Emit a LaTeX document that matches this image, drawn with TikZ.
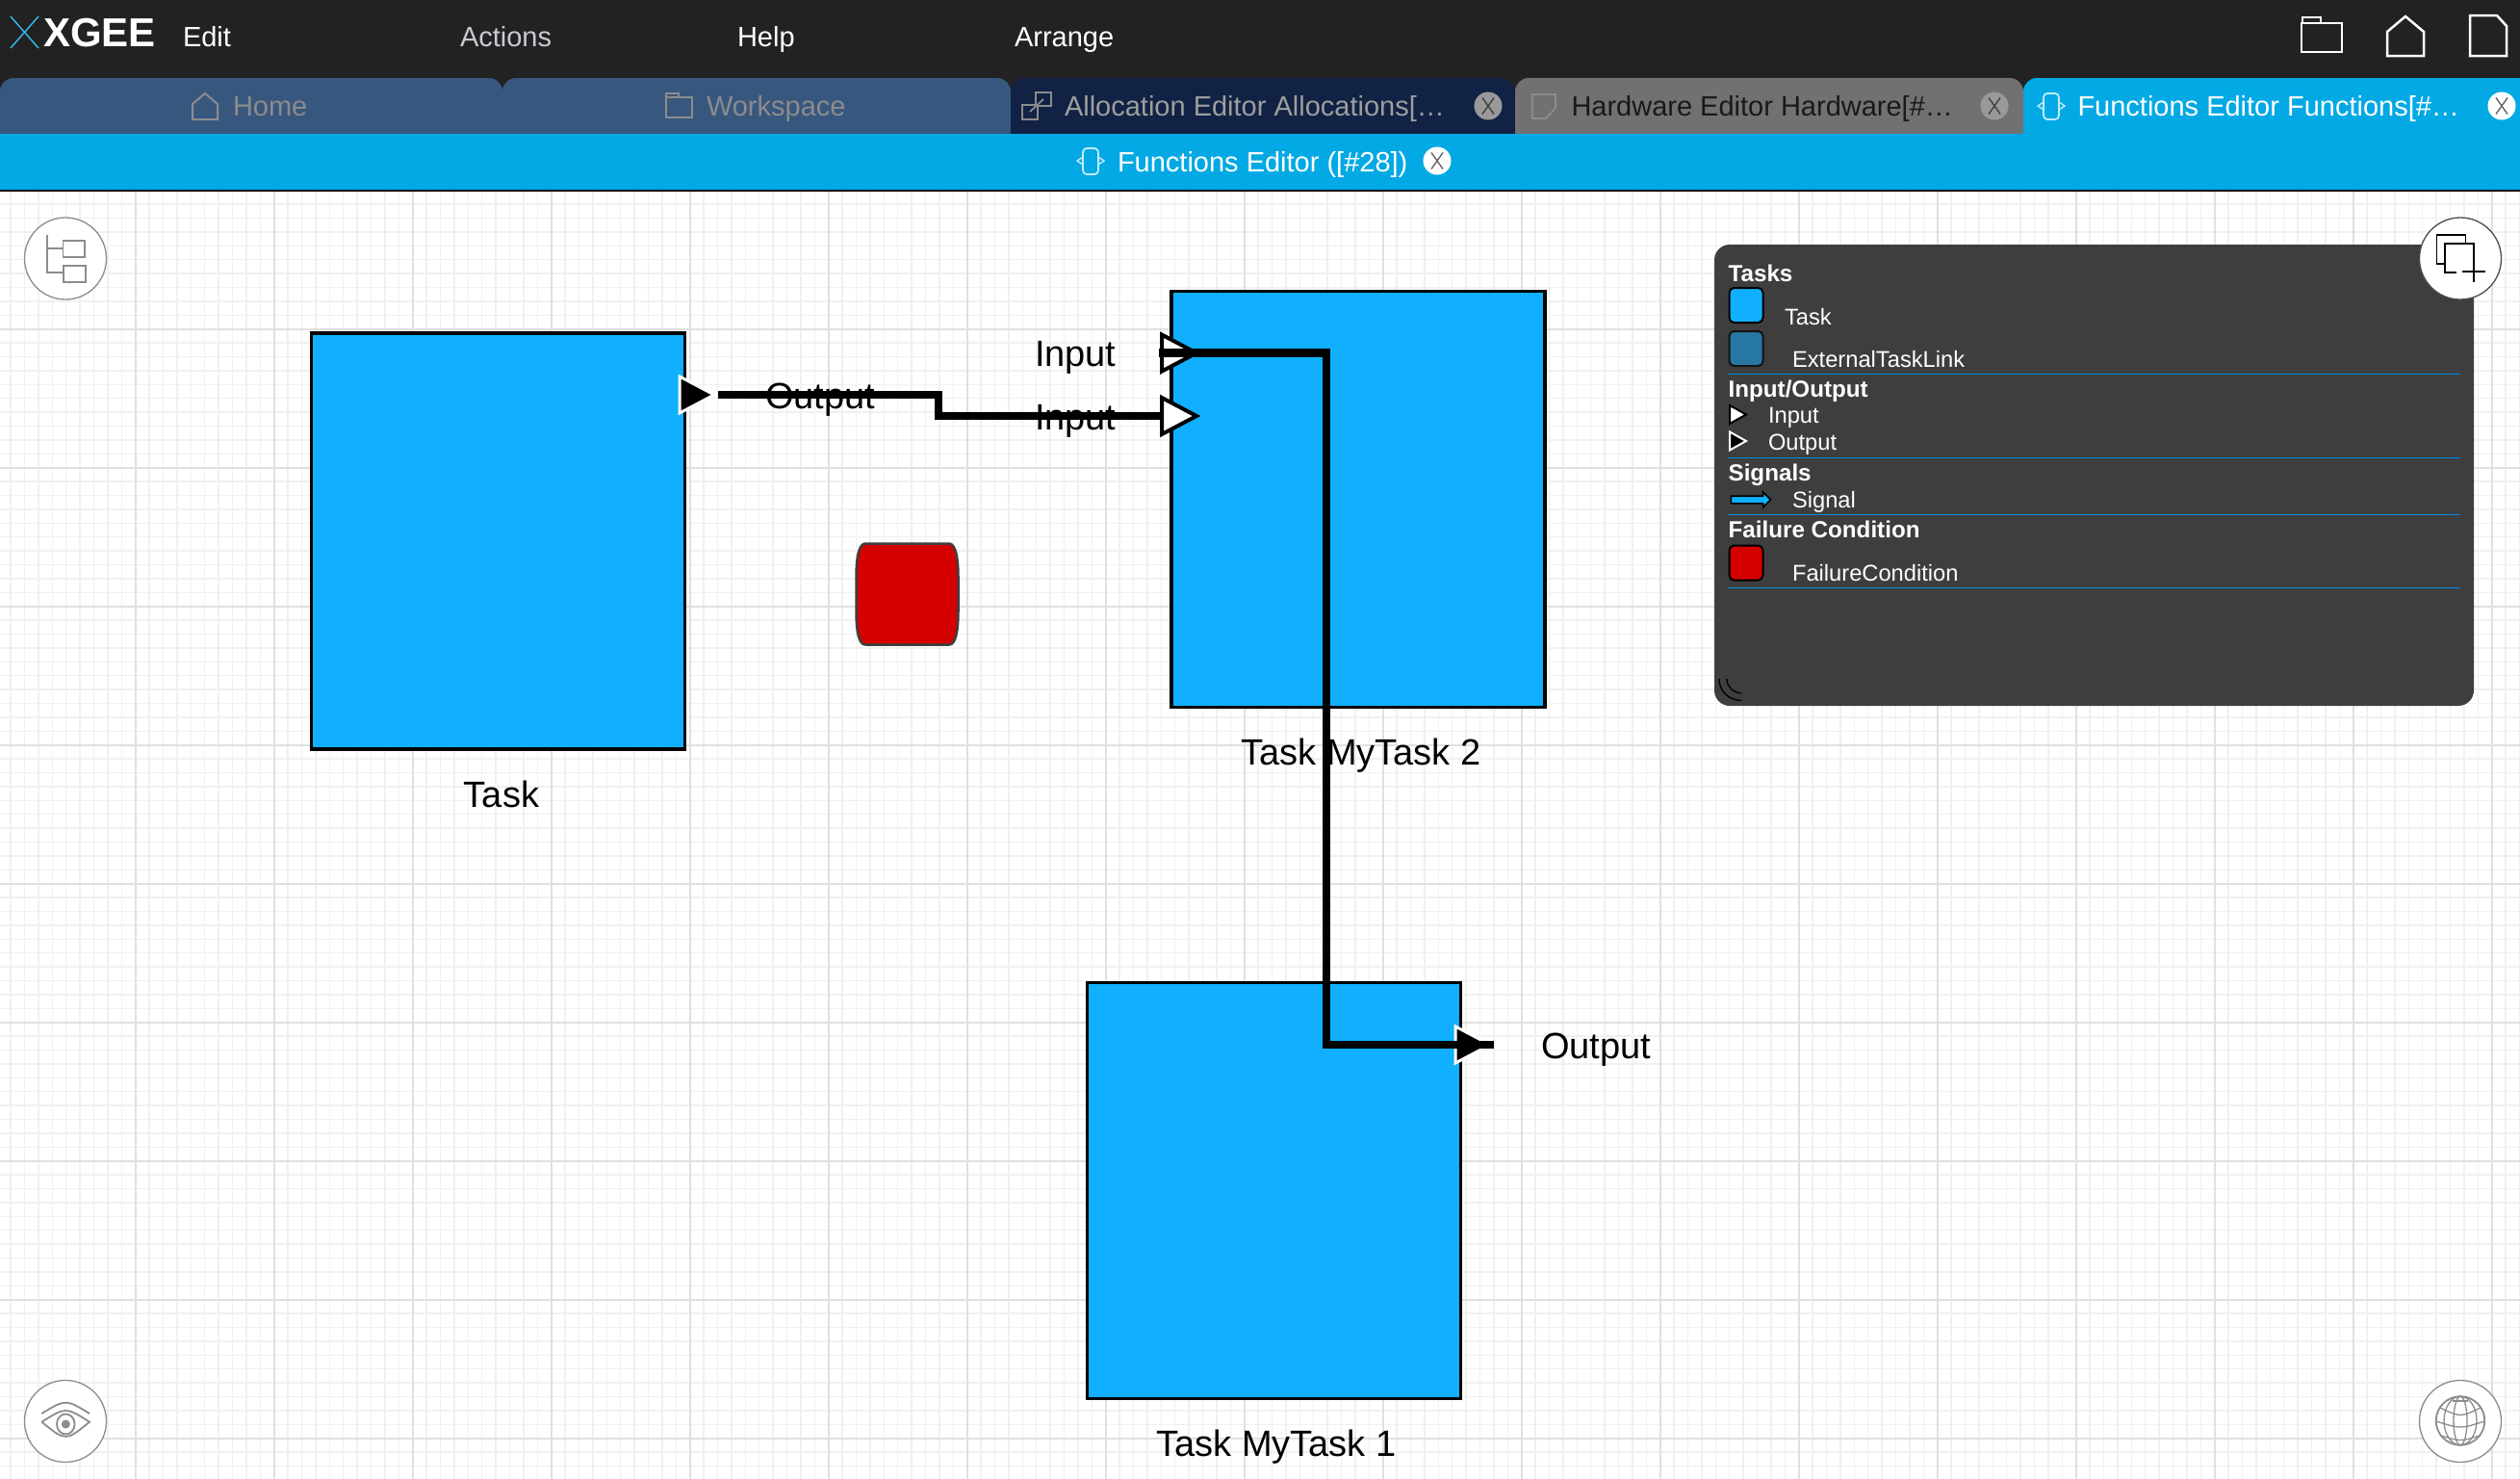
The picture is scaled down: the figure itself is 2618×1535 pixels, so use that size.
\documentclass[tikz,border=0pt]{standalone}
\usepackage{fontspec}
\setmainfont{Liberation Sans}
\usetikzlibrary{shapes,shapes.misc}

\definecolor{barDark}{HTML}{222222}
\definecolor{tabBlue}{HTML}{37577F}
\definecolor{tabNavy}{HTML}{112244}
\definecolor{tabGrey}{HTML}{717171}
\definecolor{barCyan}{HTML}{03A9E4}
\definecolor{taskBlue}{HTML}{10B0FF}
\definecolor{linkBlue}{HTML}{2777A5}
\definecolor{failRed}{HTML}{D40000}
\definecolor{panelGrey}{HTML}{3E3E3E}
\definecolor{ruleBlue}{HTML}{0088DD}
\definecolor{iconGrey}{HTML}{8C8C8C}
\definecolor{gridMinor}{HTML}{F0F0F0}
\definecolor{gridMajor}{HTML}{E0E0E0}
\definecolor{menuDim}{HTML}{C9C9D6}

\begin{document}
\begin{tikzpicture}[x=1pt, y=-1pt, line join=miter,
      every node/.append style={inner sep=0pt,outer sep=0pt}]
    \tikzstyle{menu} = [anchor=base west,font=\fontsize{29}{34}\selectfont,text=white]
    \tikzstyle{caption} = [anchor=base,font=\fontsize{38}{45}\selectfont,text=black]
    \tikzstyle{portname} = [anchor=base west,font=\fontsize{38}{45}\selectfont,text=black]
    \tikzstyle{legendhead} = [anchor=base west,font=\fontsize{24.2}{29}\selectfont\bfseries,text=white]
    \tikzstyle{legendtext} = [anchor=base west,font=\fontsize{23.7}{28}\selectfont,text=white]
    \tikzstyle{task} = [draw=black,fill=taskBlue,line width=3.5pt,minimum width=388pt,minimum height=432pt]
    \tikzstyle{swatch} = [draw=black,line width=2pt,rounded corners=5pt,minimum width=35pt,minimum height=36pt]
    \tikzstyle{port} = [isosceles triangle,isosceles triangle stretches,shape border rotate=0,anchor=lower side,
      minimum width=38pt,minimum height=36pt,line width=4pt]
    \tikzstyle{inport} = [port,draw=black,fill=white]
    \tikzstyle{outport} = [port,draw=white,fill=black,line width=3pt]
    \tikzstyle{smallport} = [isosceles triangle,isosceles triangle stretches,shape border rotate=0,anchor=lower side,
      minimum width=19pt,minimum height=17pt,line width=2pt]
    \tikzstyle{wire} = [draw=black,line width=8.5pt]
    \tikzstyle{rulerline} = [draw=ruleBlue,line width=1.6pt]
    \tikzstyle{roundbutton} = [circle,draw=iconGrey,fill=white,line width=1.3pt,minimum size=85pt]
    \tikzstyle{closebadge} = [circle,minimum size=29pt]
    \tikzstyle{closecross} = [cross out,draw=#1,line width=1.4pt,minimum width=12pt,minimum height=17pt]
    \tikzstyle{iconline} = [draw=iconGrey,line width=1.8pt]

    \useasboundingbox (0,0) rectangle (2618,1535);
    \fill [white] (0,0) rectangle (2618,1535);
    \begin{scope}[shift={(140.6,341.7)}]
      \draw [gridMinor,line width=1.4pt,step=14.4pt] (-144,1296) grid (2592,-144);
      \draw [gridMajor,line width=2.2pt,step=144pt] (-144,1296) grid (2592,-144);
    \end{scope}

    \fill [barDark] (0,0) rectangle (2618,96);
    \fill [tabBlue,rounded corners=14pt] (0,81) rectangle (522,160);
    \fill [tabBlue,rounded corners=14pt] (522,81) rectangle (1050,160);
    \fill [tabNavy,rounded corners=14pt] (1050,81) rectangle (1574,160);
    \fill [tabGrey,rounded corners=14pt] (1574,81) rectangle (2102,160);
    \fill [barCyan,rounded corners=14pt] (2102,81) rectangle (2630,160);
    \fill [barCyan] (0,139) rectangle (2618,197);
    \draw [black,line width=2pt] (0,198) -- (2618,198);

    \draw [cyan!80!white,line width=1.4pt] (11,17) -- (40,50);
    \draw [cyan!80!white,line width=1.4pt] (40,17) -- (11,50);
    \node (brand) [anchor=base west,font=\fontsize{42}{50}\selectfont\bfseries,text=white] at (45,48) {XGEE};
    \node (edit) [menu] at (190,48) {Edit};
    \node (actions) [menu,text=menuDim] at (478,48) {Actions};
    \node (help) [menu] at (766,48) {Help};
    \node (arrange) [menu] at (1054,48) {Arrange};

    \draw [white,line width=2.5pt] (2391,24) rectangle (2433,54);
    \draw [white,line width=2.5pt] (2392,24) -- (2392,18) -- (2411,18) -- (2411,24);
    \draw [white,line width=2.5pt] (2480,58) -- (2480,33) -- (2499,17) -- (2518,33) -- (2518,58) -- cycle;
    \draw [white,line width=2.5pt] (2566,16) -- (2594,16) -- (2604,27) -- (2604,58) -- (2566,58) -- cycle;

    \draw [iconGrey,line width=2pt] (200,124) -- (200,108) -- (213,97) -- (226,108) -- (226,124) -- cycle;
    \node (home) [menu,text=iconGrey] at (242,120) {Home};
    \draw [iconGrey,line width=2pt] (692,101) rectangle (719,122);
    \draw [iconGrey,line width=2pt] (692,101) -- (692,97) -- (705,97) -- (705,101);
    \node (workspace) [menu,text=iconGrey] at (734,120) {Workspace};

    \draw [iconGrey,line width=1.8pt] (1076,96) rectangle (1092,110);
    \draw [iconGrey,line width=1.8pt] (1062,109) rectangle (1078,124);
    \draw [iconGrey,line width=1.8pt] (1070,116) -- (1084,103);
    \node (alloctab) [menu,text=white!62!black] at (1106,120) {Allocation Editor Allocations[…};
    \node (allocclose) [closebadge,fill=white!60!black] at (1546,110) {};
    \node (alloccross) [closecross=white!25!black] at (1546,110) {};

    \draw [iconGrey,line width=1.8pt] (1592,98) -- (1616,98) -- (1616,112) -- (1606,123) -- (1592,123) -- cycle;
    \node (hardwaretab) [menu,text=black!90!white] at (1632.5,120) {Hardware Editor Hardware[\#…};
    \node (hardwareclose) [closebadge,fill=white!60!black] at (2072,110) {};
    \node (hardwarecross) [closecross=white!25!black] at (2072,110) {};

    \draw [white!75!cyan,line width=1.8pt,rounded corners=4pt] (2123,97) rectangle (2139,124);
    \draw [white!75!cyan,line width=1.4pt] (2123,106) -- (2117,110) -- (2123,114);
    \draw [white!75!cyan,line width=1.4pt] (2139,106) -- (2145,110) -- (2139,114);
    \node (functionstab) [menu] at (2158.5,120) {Functions Editor Functions[\#…};
    \node (functionsclose) [closebadge,fill=white] at (2599,110) {};
    \node (functionscross) [closecross=white!40!black] at (2599,110) {};

    \draw [white!75!cyan,line width=1.8pt,rounded corners=4pt] (1125,154) rectangle (1141,181);
    \draw [white!75!cyan,line width=1.4pt] (1125,163) -- (1119,167) -- (1125,171);
    \draw [white!75!cyan,line width=1.4pt] (1141,163) -- (1147,167) -- (1141,171);
    \node (editortitle) [menu] at (1161,178) {Functions Editor ([\#28])};
    \node (editorclose) [closebadge,fill=white] at (1493,167) {};
    \node (editorcross) [closecross=white!40!black] at (1493,167) {};

    \node (taskTask) [task] at (517.5,562) {};
    \node (taskTwo) [task] at (1411,518.5) {};
    \node (taskOne) [task] at (1323.5,1236.5) {};
    \node (taskTaskName) [caption] at (521,838) {Task};
    \node (taskTwoName) [caption] at (1414,794.5) {Task MyTask 2};
    \node (taskOneName) [caption] at (1326,1512) {Task MyTask 1};

    \draw [fill=failRed,draw=panelGrey,line width=2.5pt] (899,564.5)
      .. controls (892,564.5) and (889.5,580) .. (889.5,600) -- (889.5,634)
      .. controls (889.5,655) and (892,669.5) .. (899,669.5) -- (986,669.5)
      .. controls (993,669.5) and (995.5,655) .. (995.5,634) -- (995.5,600)
      .. controls (995.5,580) and (993,564.5) .. (986,564.5) -- cycle;

    \node (outLeft) [outport] at (706,410) {};
    \node (inTop) [inport] at (1207,366.6) {};
    \node (inLow) [inport] at (1207,432) {};
    \node (outLow) [outport] at (1512,1085) {};
    \node (outLeftName) [portname] at (795,424) {Output};
    \node (inTopName) [portname] at (1075,380) {Input};
    \node (inLowName) [portname] at (1075,446) {Input};
    \node (outLowName) [portname] at (1601,1099) {Output};
    \draw [wire] ([xshift=4pt]outLeft.apex) -- (975,410) |- (inLow.lower side);
    \draw [wire] ([xshift=-3pt]inTop.lower side) -- (1378,366.6) |- ([xshift=4pt]outLow.apex);

    \fill [panelGrey,rounded corners=16pt] (1781,254) rectangle (2570,733);
    \node (tasksHead) [legendhead] at (1795.6,292) {Tasks};
    \node (taskSwatch) [swatch,fill=taskBlue] at (1814,317) {};
    \node (taskItem) [legendtext] at (1854,337) {Task};
    \node (linkSwatch) [swatch,fill=linkBlue,draw=black!70!panelGrey] at (1814,362) {};
    \node (linkItem) [legendtext] at (1862,381) {ExternalTaskLink};
    \draw [rulerline] (1795,388.5) -- (2556,388.5);
    \node (ioHead) [legendhead] at (1795.6,412) {Input/Output};
    \node (inSample) [smallport,draw=black,fill=white] at (1797,430.5) {};
    \node (inItem) [legendtext] at (1837,439.7) {Input};
    \node (outSample) [smallport,draw=white,fill=black] at (1797,458) {};
    \node (outItem) [legendtext] at (1837,467.7) {Output};
    \draw [rulerline] (1795,475.5) -- (2556,475.5);
    \node (signalsHead) [legendhead] at (1795.6,499) {Signals};
    \node (signalSample) [single arrow,draw=black,fill=taskBlue,line width=1.6pt,inner sep=3pt,
      minimum height=41pt,single arrow head extend=4pt] at (1817,519) {};
    \node (signalItem) [legendtext] at (1862,527) {Signal};
    \draw [rulerline] (1795,534.5) -- (2556,534.5);
    \node (failHead) [legendhead] at (1795.6,558) {Failure Condition};
    \node (failSwatch) [swatch,fill=failRed] at (1814,584.5) {};
    \node (failItem) [legendtext] at (1862,603) {FailureCondition};
    \draw [rulerline] (1795,610.5) -- (2556,610.5);
    \draw [black,line width=1.4pt] (1786,705) .. controls (1786,718) and (1796,727) .. (1809,727.5);
    \draw [black,line width=1.4pt] (1794,705) .. controls (1794,713) and (1800,719) .. (1809,720);

    \node (treeButton) [roundbutton] at (68,268.5) {};
    \draw [iconline] (48.7,244) -- (48.7,283) -- (66,283);
    \draw [iconline] (48.7,258) -- (65.5,258);
    \draw [iconline] (65.5,250) rectangle (88,267);
    \draw [iconline] (66,276) rectangle (89,293);

    \node (addButton) [roundbutton,draw=black!70!white] at (2556,268.5) {};
    \draw [black,line width=1.2pt] (2540,274) -- (2531.5,274) -- (2531.5,244) -- (2561.6,244) -- (2561.6,253);
    \draw [black,line width=1.2pt] (2552,283) -- (2540,283) -- (2540,253) -- (2570,253) -- (2570,272);
    \draw [black,line width=1.2pt] (2558,282) -- (2582,282);
    \draw [black,line width=1.2pt] (2570,272) -- (2570,293);

    \node (eyeButton) [roundbutton] at (68,1476) {};
    \draw [iconline] (43.3,1468) .. controls (68.3,1452.9) .. (93,1468);
    \draw [iconline] (43.3,1476.7) .. controls (68.3,1461.1) .. (93,1476.7) .. controls (68.3,1497) .. (43.3,1476.7);
    \draw [iconline] (68.3,1479) ellipse [x radius=9.3,y radius=10.5];
    \fill [iconGrey] (68.3,1479) circle [radius=4.5];

    \node (globeButton) [roundbutton] at (2556,1476) {};
    \draw [iconline] (2556,1475.5) circle [radius=25.3];
    \foreach \rx in {7,17}
      \draw [iconline,line width=1.3pt] (2556,1475.5) ellipse [x radius=\rx,y radius=25.3];
    \draw [iconline,line width=1.3pt] (2548,1455) -- (2564,1455);
    \draw [iconline,line width=1.3pt] (2535,1462) .. controls (2556,1472) .. (2577,1462);
    \draw [iconline,line width=1.3pt] (2531,1476) .. controls (2556,1484) .. (2581,1476);
    \draw [iconline,line width=1.3pt] (2536,1491) .. controls (2556,1497) .. (2576,1491);
\end{tikzpicture}
\end{document}
